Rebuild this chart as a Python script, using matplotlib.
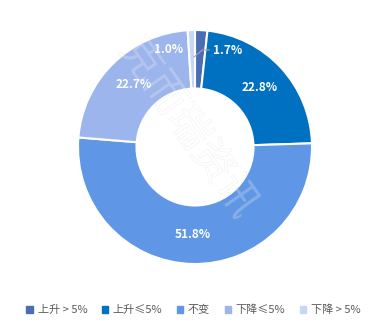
import numpy as np
import matplotlib
matplotlib.use("Agg")
import matplotlib.pyplot as plt
import matplotlib.patheffects as pe

plt.rcParams['font.family'] = ['Noto Sans CJK SC', 'DejaVu Sans']

labels = ["上升 > 5%", "上升≤5%", "不变", "下降≤5%", "下降 > 5%"]
values = [1.7, 22.8, 51.8, 22.7, 1.0]
colors = ["#4a6db3", "#0070c0", "#5f97e6", "#9cb5ec", "#c6d6f5"]

W, H = 387, 328
fig = plt.figure(figsize=(W / 100, H / 100), dpi=100)
cx, cy, r = 195, 147, 117
ax = fig.add_axes([(cx - r) / W, (H - cy - r) / H, 2 * r / W, 2 * r / H])

wedges, _ = ax.pie(values, colors=colors, startangle=90, counterclock=False,
                   radius=1.0, wedgeprops=dict(width=0.5, edgecolor="white", linewidth=1.5))
ax.set_xlim(-1, 1); ax.set_ylim(-1, 1); ax.set_aspect("equal")
ax.axis("off")

# percentage labels; the two thin slices get pushed to the side
for i, (w, v) in enumerate(zip(wedges, values)):
    mid = np.deg2rad((w.theta1 + w.theta2) / 2)
    txt = "%.1f%%" % v
    if i == 0:
        x0, y0 = 0.78 * np.cos(mid), 0.78 * np.sin(mid)
        ax.plot([x0 - 0.05, x0 + 0.02, x0 + 0.08], [y0 - 0.01, y0 + 0.05, y0 + 0.05],
                color="#a6a6a6", lw=0.8)
        ax.text(x0 + 0.11, y0 + 0.05, txt, color="white", fontsize=8.5,
                fontweight="bold", ha="left", va="center")
    elif i == 4:
        a = np.deg2rad(105)
        ax.text(0.87 * np.cos(a), 0.86 * np.sin(a), txt, color="white", fontsize=8.5,
                fontweight="bold", ha="center", va="center")
    else:
        ax.text(0.75 * np.cos(mid), 0.75 * np.sin(mid), txt, color="white",
                fontsize=8.5, fontweight="bold", ha="center", va="center")

# faint watermark
fig.text(188 / W, 1 - 128 / H, "克而瑞资讯", rotation=-55, fontsize=30,
         color="white", alpha=0.12, ha="center", va="center",
         path_effects=[pe.withStroke(linewidth=0.6, foreground="#b0b0b0")])

handles = [plt.Rectangle((0, 0), 1, 1, color=c) for c in colors]
fig.legend(handles, labels, loc="center", bbox_to_anchor=(0.5, 1 - 310 / H), ncol=5,
           frameon=False, fontsize=8, handlelength=0.6, handleheight=0.6,
           handletextpad=0.4, columnspacing=1.3, labelcolor="#595959")

fig.savefig("out.png", dpi=100)
